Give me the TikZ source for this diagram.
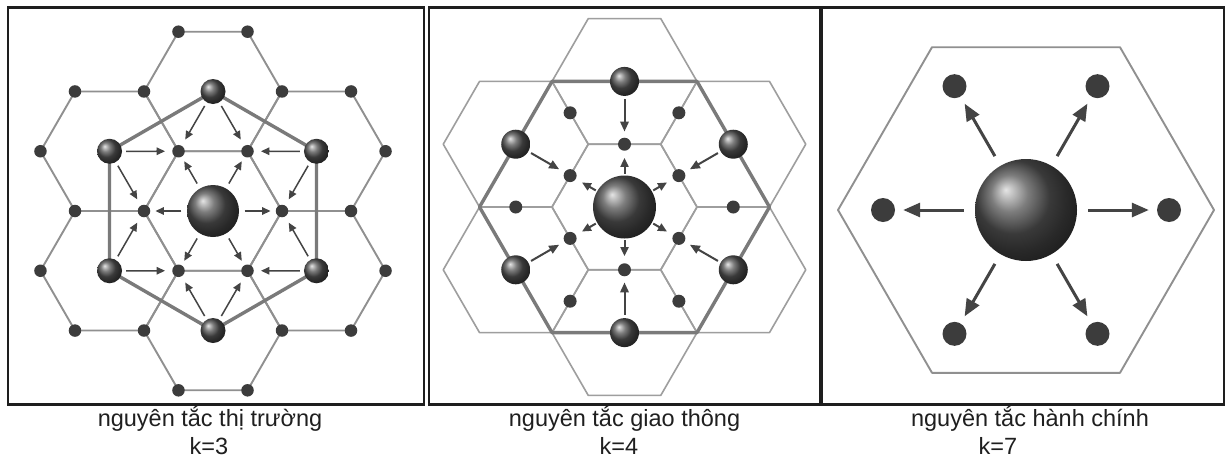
\documentclass[tikz,border=0pt]{standalone}
\usepackage{fontspec}
\setmainfont{Liberation Sans}
\usetikzlibrary{arrows.meta}
\definecolor{framec}{HTML}{1E1E1E}
\definecolor{gridc}{HTML}{909090}
\definecolor{gridb}{HTML}{9E9E9E}
\definecolor{thickc}{HTML}{7A7A7A}
\definecolor{dotc}{HTML}{3C3C3C}
\definecolor{arrc}{HTML}{444444}
\tikzset{
  frame/.style={draw=framec, line width=2.6pt},
  grid/.style={draw=gridc, line width=1.9pt, line join=round},
  gridtwo/.style={draw=gridb, line width=1.6pt, line join=round},
  thickhex/.style={draw=thickc, line width=3.4pt, line join=round},
  sdot/.style={circle, inner sep=0pt, minimum size=#1, fill=dotc},
  sdot/.default=12.5pt,
  ball/.style={circle, inner sep=0pt, minimum size=#1, ball color=black!68},
  arrA/.style={draw=arrc, line width=1.5pt, -{Triangle[length=8.5pt,width=7.5pt]}, shorten <=4pt, shorten >=7pt},
  arrAc/.style={draw=arrc, line width=1.5pt, -{Triangle[length=8.5pt,width=7.5pt]}, shorten <=5.5pt, shorten >=5pt},
  arrB/.style={draw=arrc, line width=2pt, -{Triangle[length=10pt,width=8.5pt]}, shorten <=3pt, shorten >=6pt},
  arrBc/.style={draw=arrc, line width=2pt, -{Triangle[length=9pt,width=8pt]}, shorten <=1.5pt, shorten >=7pt},
  arrC/.style={draw=arrc, line width=3pt, -{Triangle[length=17pt,width=14pt]}, shorten <=11pt, shorten >=8pt},
  caption/.style={font=\fontsize{23.5}{28}\selectfont, inner sep=0pt, anchor=base, text=black!88}
}
\begin{document}
\begin{tikzpicture}[x=1pt,y=-1pt]
\useasboundingbox[fill=white] (0,0) rectangle (1228,461);

% ---------------- Panel 1: k=3 ----------------
\begin{scope}[shift={(213,211)}]
  \foreach \cx/\cy in {0/0, 0/-119.5, 0/119.5, -103.5/-59.75, 103.5/-59.75, -103.5/59.75, 103.5/59.75}
    \draw[grid] (\cx+69,\cy) -- ++(-34.5,59.75) -- ++(-69,0) -- ++(-34.5,-59.75) -- ++(34.5,-59.75) -- ++(69,0) -- cycle;
  \foreach \j in {0,...,5}
    \coordinate (p1mc\j) at ({119.5*cos(30+60*\j)},{119.5*sin(30+60*\j)});
  \draw[thickhex] (p1mc0) -- (p1mc1) -- (p1mc2) -- (p1mc3) -- (p1mc4) -- (p1mc5) -- cycle;
  \foreach \i in {0,...,5} {
    \node[sdot] (p1v\i) at ({69*cos(60*\i)},{69*sin(60*\i)}) {};
    \node[sdot] (p1o\i) at ({138*cos(60*\i)},{138*sin(60*\i)}) {};
    \node[sdot] (p1p\i) at ({182.6*cos(60*\i+19.1)},{182.6*sin(60*\i+19.1)}) {};
    \node[sdot] (p1q\i) at ({182.6*cos(60*\i-19.1)},{182.6*sin(60*\i-19.1)}) {};
    \node[ball=25pt] (p1m\i) at (p1mc\i) {};
  }
  \node[ball=52pt] (p1c) at (0,0) {};
  \foreach \j [evaluate=\j as \jn using {int(mod(\j+1,6))}] in {0,...,5} {
    \draw[arrA] (p1m\j) -- (p1v\j);
    \draw[arrA] (p1m\j) -- (p1v\jn);
    \draw[arrAc] (p1c) -- (p1v\j);
  }
\end{scope}

% ---------------- Panel 2: k=4 ----------------
\begin{scope}[shift={(624.5,207)}]
  \foreach \cx/\cy in {0/0, 0/-125.6, 0/125.6, -108.75/-62.79, 108.75/-62.79, -108.75/62.79, 108.75/62.79}
    \draw[gridtwo] (\cx+72.5,\cy) -- ++(-36.25,62.79) -- ++(-72.5,0) -- ++(-36.25,-62.79) -- ++(36.25,-62.79) -- ++(72.5,0) -- cycle;
  \draw[thickhex] (145,0) -- (72.5,125.6) -- (-72.5,125.6) -- (-145,0) -- (-72.5,-125.6) -- (72.5,-125.6) -- cycle;
  \foreach \i in {0,...,5} {
    \node[sdot=13pt] (p2i\i) at ({62.79*cos(30+60*\i)},{62.79*sin(30+60*\i)}) {};
    \node[sdot=13pt] (p2o\i) at ({108.75*cos(60*\i)},{108.75*sin(60*\i)}) {};
    \node[ball=29pt] (p2m\i) at ({125.6*cos(30+60*\i)},{125.6*sin(30+60*\i)}) {};
  }
  \node[ball=63pt] (p2c) at (0,0) {};
  \foreach \j in {0,...,5} {
    \draw[arrB] (p2m\j) -- (p2i\j);
    \draw[arrBc] (p2c) -- (p2i\j);
  }
\end{scope}

% ---------------- Panel 3: k=7 ----------------
\begin{scope}[shift={(1026,210)}]
  \draw[grid] (188,0) -- (94,162.8) -- (-94,162.8) -- (-188,0) -- (-94,-162.8) -- (94,-162.8) -- cycle;
  \foreach \i in {0,...,5}
    \node[sdot=24pt] (p3d\i) at ({143*cos(60*\i)},{143*sin(60*\i)}) {};
  \node[ball=102pt] (p3c) at (0,0) {};
  \foreach \j in {0,...,5}
    \draw[arrC] (p3c) -- (p3d\j);
\end{scope}

% ---------------- Frames ----------------
\draw[frame] (8,7.7) rectangle (424,404.5);
\draw[frame] (428.8,7.7) rectangle (820,404.5);
\draw[frame] (821.6,7.7) rectangle (1224,404.5);

% ---------------- Captions ----------------
\node[caption] (t1a) at (210,426) {nguyên tắc thị trường};
\node[caption] (t1b) at (209,454) {k=3};
\node[caption] (t2a) at (624.5,426) {nguyên tắc giao thông};
\node[caption] (t2b) at (619,454) {k=4};
\node[caption] (t3a) at (1030,426) {nguyên tắc hành chính};
\node[caption] (t3b) at (998,454) {k=7};
\end{tikzpicture}
\end{document}
